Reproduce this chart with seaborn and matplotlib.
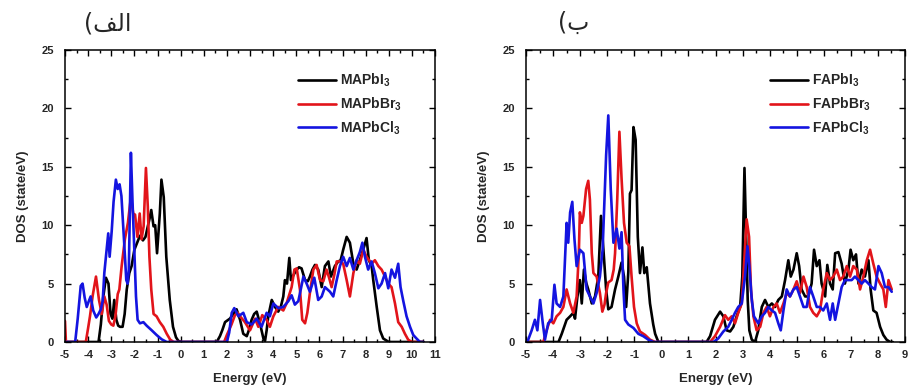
import numpy as np
import pandas as pd
import matplotlib
matplotlib.use("Agg")
import matplotlib.pyplot as plt
from matplotlib.ticker import MultipleLocator
import seaborn as sns

# ---------------- data ----------------
# Panel (a): MA-based perovskites
ma_i_E = [-5.0, -3.55, -3.45, -3.35, -3.23, -3.12, -3.03, -2.95, -2.87, -2.78, -2.7, -2.62, -2.51, -2.42,
          -2.33, -2.22, -2.12, -2.0, -1.88, -1.76, -1.63, -1.52, -1.42, -1.35, -1.27, -1.17, -1.1, -1.02,
          -0.9, -0.83, -0.73, -0.62, -0.47, -0.33, -0.2, -0.1, 0.05,
          1.56, 1.7, 1.8, 1.92, 2.13, 2.28, 2.42, 2.57, 2.71, 2.86, 2.95, 3.07, 3.18, 3.29, 3.43, 3.58, 3.65,
          3.72, 3.79, 3.94, 4.08, 4.22, 4.33, 4.44, 4.51, 4.6, 4.7, 4.77, 4.87, 5.02, 5.12, 5.23, 5.38, 5.5,
          5.59, 5.7, 5.81, 5.95, 6.1, 6.24, 6.39, 6.5, 6.67, 6.82, 6.92, 7.03, 7.18, 7.32, 7.47, 7.61, 7.75,
          7.94, 8.04, 8.14, 8.26, 8.33, 8.48, 8.62, 8.76, 8.98, 9.1, 10.5]
ma_i_D = [0.0, 0.0, 1.5, 3.8, 5.5, 5.0, 2.4, 2.0, 3.6, 1.9, 1.4, 1.3, 1.3, 2.4,
          4.5, 5.9, 6.5, 7.9, 8.5, 9.1, 8.7, 9.0, 9.9, 10.5, 11.3, 9.9, 10.0, 7.6,
          11.0, 13.9, 12.4, 7.3, 3.6, 1.3, 0.4, 0.1, 0.0,
          0.0, 0.5, 1.0, 1.7, 2.0, 2.4, 2.8, 1.9, 0.7, 0.5, 1.0, 1.9, 2.4, 2.6, 1.6, 0.3, 0.1,
          1.0, 2.2, 3.6, 3.0, 2.6, 3.0, 3.9, 5.3, 5.0, 7.2, 5.3, 5.7, 6.2, 6.4, 6.3, 5.3, 5.2,
          5.6, 6.2, 6.6, 6.2, 4.7, 6.5, 6.9, 5.6, 6.5, 6.9, 7.0, 7.9, 9.0, 8.5, 6.7, 6.2, 7.0,
          8.2, 8.9, 7.0, 6.5, 5.3, 3.0, 1.0, 0.3, 0.03, 0.0, 0.0]

ma_br_E = [-5.0, -4.96, -4.1, -4.0, -3.92, -3.8, -3.66, -3.53, -3.41, -3.3, -3.2, -3.1, -3.0, -2.91, -2.82,
           -2.72, -2.65, -2.55, -2.41, -2.28, -2.15, -2.05, -1.97, -1.87, -1.77, -1.69, -1.6, -1.5, -1.42,
           -1.35, -1.27, -1.17, -1.04, -0.9, -0.75, -0.6, -0.45, -0.3,
           1.88, 2.0, 2.2, 2.35, 2.47, 2.57, 2.78, 3.0, 3.22, 3.36, 3.53, 3.72, 3.86, 4.01, 4.22, 4.44, 4.58,
           4.8, 4.92, 5.02, 5.16, 5.26, 5.38, 5.48, 5.59, 5.74, 5.88, 6.03, 6.17, 6.31, 6.42, 6.53, 6.65, 6.75,
           6.89, 7.03, 7.18, 7.32, 7.47, 7.61, 7.75, 7.9, 8.04, 8.15, 8.26, 8.4, 8.55, 8.69, 8.84, 8.98, 9.12,
           9.27, 9.41, 9.56, 9.7, 9.84, 10.0, 10.5]
ma_br_D = [1.8, 0.0, 0.0, 1.2, 2.2, 4.0, 5.6, 3.6, 2.4, 3.9, 3.2, 1.8, 1.5, 1.4, 2.2,
           4.1, 4.5, 6.5, 8.8, 10.2, 12.4, 11.0, 10.9, 9.0, 11.0, 8.8, 9.9, 14.9, 11.6,
           7.3, 4.5, 2.4, 2.2, 1.7, 1.3, 0.7, 0.2, 0.0,
           0.0, 0.6, 1.5, 2.3, 2.5, 2.2, 1.7, 1.0, 2.0, 1.3, 2.3, 1.9, 1.3, 2.2, 3.0, 2.7, 3.3,
           4.7, 6.2, 6.3, 4.5, 1.9, 1.6, 2.5, 4.2, 6.2, 6.6, 5.3, 5.2, 6.2, 5.5, 4.7, 5.8, 6.9,
           6.9, 6.7, 5.3, 3.9, 5.9, 7.0, 6.7, 7.9, 7.3, 7.0, 6.7, 7.0, 6.5, 6.2, 5.6, 5.0, 4.7,
           3.3, 1.7, 1.3, 0.7, 0.2, 0.0, 0.0]

ma_cl_E = [-5.0, -4.56, -4.45, -4.32, -4.24, -4.15, -4.06, -3.97, -3.89, -3.78, -3.65, -3.55, -3.45, -3.37,
           -3.3, -3.22, -3.13, -3.07, -2.98, -2.9, -2.8, -2.72, -2.64, -2.56, -2.45, -2.35, -2.29, -2.24,
           -2.15, -2.08, -2.02, -1.93, -1.86, -1.76, -1.61, -1.47, -1.25, -1.04, -0.82, -0.6,
           2.0, 2.1, 2.21, 2.32, 2.5, 2.71, 2.86, 3.07, 3.29, 3.5, 3.72, 3.86, 4.01, 4.22, 4.44, 4.66, 4.8,
           4.94, 5.09, 5.31, 5.45, 5.59, 5.78, 5.95, 6.1, 6.24, 6.46, 6.6, 6.75, 6.89, 7.03, 7.18, 7.32, 7.47,
           7.61, 7.75, 7.86, 7.97, 8.11, 8.26, 8.4, 8.55, 8.69, 8.84, 8.98, 9.12, 9.27, 9.41, 9.51, 9.63,
           9.77, 9.92, 10.06, 10.2, 10.35, 10.5]
ma_cl_D = [0.0, 0.0, 2.0, 4.8, 5.0, 3.8, 3.0, 3.5, 3.9, 2.7, 2.1, 2.4, 2.8, 3.5,
           5.9, 7.5, 9.3, 7.3, 9.5, 12.0, 13.9, 13.1, 13.5, 12.5, 8.8, 5.3, 5.0, 6.2,
           16.2, 12.0, 8.8, 3.9, 1.9, 1.6, 1.7, 1.4, 1.0, 0.6, 0.23, 0.0,
           0.0, 0.8, 2.5, 2.9, 2.2, 2.5, 1.7, 1.5, 2.0, 1.3, 2.5, 2.2, 3.3, 2.9, 3.0, 3.5, 4.0,
           3.2, 3.5, 5.6, 5.0, 4.3, 5.5, 3.6, 3.9, 4.7, 4.3, 3.9, 5.3, 6.5, 7.3, 6.5, 7.2, 6.2,
           7.0, 7.7, 8.5, 7.3, 6.2, 6.9, 5.9, 4.6, 5.0, 5.9, 4.6, 6.2, 5.5, 6.7, 4.7, 3.5,
           2.2, 1.3, 0.6, 0.3, 0.0, 0.0]

# Panel (b): FA-based perovskites
fa_i_E = [-5.0, -3.8, -3.68, -3.5, -3.37, -3.25, -3.19, -3.1, -3.01, -2.94, -2.86, -2.78, -2.7, -2.57, -2.45,
          -2.33, -2.23, -2.14, -2.04, -1.96, -1.84, -1.71, -1.59, -1.47, -1.38, -1.3, -1.22, -1.16, -1.1,
          -1.03, -0.95, -0.87, -0.79, -0.7, -0.63, -0.54, -0.42, -0.3, -0.23, -0.11,
          1.67, 1.8, 1.98, 2.17, 2.29, 2.41, 2.54, 2.66, 2.78, 2.91, 2.99, 3.07, 3.13, 3.19, 3.25, 3.34, 3.46,
          3.58, 3.71, 3.83, 3.95, 4.08, 4.2, 4.32, 4.45, 4.57, 4.69, 4.78, 4.88, 5.0, 5.09, 5.18, 5.31, 5.43,
          5.55, 5.64, 5.74, 5.84, 5.92, 6.05, 6.13, 6.23, 6.33, 6.42, 6.54, 6.66, 6.78, 6.91, 6.99, 7.09,
          7.19, 7.28, 7.4, 7.52, 7.65, 7.73, 7.83, 7.95, 8.08, 8.2, 8.32, 8.45, 8.55]
fa_i_D = [0.0, 0.0, 0.7, 1.9, 2.2, 2.5, 2.0, 3.9, 5.3, 3.3, 6.2, 5.1, 4.5, 3.3, 3.9,
          5.6, 10.8, 7.9, 4.5, 2.8, 3.0, 4.5, 5.6, 6.8, 5.6, 3.0, 6.0, 12.7, 13.0,
          18.4, 17.3, 9.0, 5.9, 8.1, 5.9, 6.4, 3.3, 1.5, 0.7, 0.0,
          0.0, 0.5, 1.9, 2.6, 2.2, 1.0, 0.9, 1.3, 2.2, 3.0, 5.6, 14.9, 9.3, 3.6, 1.0, 0.2, 0.0,
          1.0, 3.0, 3.6, 3.0, 3.3, 3.0, 3.6, 3.9, 5.3, 7.0, 5.6, 6.2, 7.6, 6.5, 4.5, 3.9, 3.9,
          5.0, 7.9, 6.5, 7.0, 5.0, 3.9, 6.6, 5.0, 4.5, 7.6, 7.7, 6.7, 5.0, 6.2, 7.9, 7.0,
          7.5, 5.0, 6.2, 5.6, 7.0, 4.5, 2.7, 2.5, 1.3, 0.6, 0.2, 0.0, 0.0]

fa_br_E = [-5.0, -4.36, -4.24, -4.11, -3.99, -3.87, -3.74, -3.62, -3.5, -3.37, -3.25, -3.13, -3.05, -3.01,
           -2.94, -2.88, -2.78, -2.7, -2.64, -2.57, -2.51, -2.39, -2.27, -2.18, -2.1, -2.04, -1.96, -1.84,
           -1.76, -1.71, -1.63, -1.55, -1.47, -1.38, -1.28, -1.18, -1.1, -1.01, -0.91, -0.79, -0.6, -0.42,
           -0.23,
           1.8, 1.98, 2.17, 2.35, 2.47, 2.6, 2.72, 2.84, 2.97, 3.05, 3.15, 3.24, 3.31, 3.4, 3.52, 3.65, 3.77,
           3.89, 4.01, 4.14, 4.26, 4.38, 4.51, 4.63, 4.75, 4.88, 5.0, 5.12, 5.25, 5.37, 5.49, 5.61, 5.74,
           5.86, 5.98, 6.11, 6.23, 6.35, 6.48, 6.6, 6.72, 6.85, 6.97, 7.09, 7.22, 7.34, 7.46, 7.59, 7.71,
           7.83, 7.95, 8.08, 8.2, 8.29, 8.39, 8.51]
fa_br_D = [0.0, 0.0, 1.0, 1.9, 1.6, 2.2, 2.5, 3.0, 4.5, 3.3, 2.5, 3.9, 7.5, 11.1,
           10.2, 10.8, 13.1, 13.8, 12.2, 7.6, 5.9, 5.6, 4.2, 2.6, 3.2, 4.2, 5.1, 5.3,
           6.2, 7.6, 12.2, 18.0, 14.0, 10.2, 8.5, 8.2, 5.6, 3.0, 1.6, 0.9, 0.6, 0.2,
           0.0,
           0.0, 0.5, 1.3, 2.3, 1.9, 2.2, 1.6, 2.5, 3.3, 6.5, 10.5, 9.0, 4.5, 2.2, 1.0, 1.3, 2.5,
           3.0, 2.2, 3.0, 3.3, 2.5, 3.3, 4.2, 3.9, 4.5, 5.2, 4.2, 5.6, 4.7, 3.0, 2.5, 2.2,
           2.7, 4.5, 5.9, 5.3, 5.6, 6.2, 5.3, 5.6, 6.5, 5.6, 6.5, 6.2, 4.5, 5.6, 7.0, 7.9,
           6.7, 5.6, 5.0, 4.5, 3.0, 5.3, 4.5]

fa_cl_E = [-5.0, -4.95, -4.79, -4.67, -4.58, -4.48, -4.38, -4.3, -4.18, -4.05, -3.95, -3.87, -3.74, -3.62,
           -3.5, -3.44, -3.37, -3.29, -3.21, -3.13, -3.01, -2.88, -2.76, -2.64, -2.51, -2.39, -2.27, -2.17,
           -2.04, -1.96, -1.87, -1.77, -1.65, -1.55, -1.47, -1.4, -1.34, -1.22, -1.03, -0.85, -0.67, -0.48,
           -0.3,
           1.92, 2.1, 2.29, 2.47, 2.6, 2.72, 2.84, 2.97, 3.09, 3.18, 3.25, 3.34, 3.42, 3.58, 3.71, 3.83, 3.95,
           4.08, 4.2, 4.32, 4.41, 4.51, 4.63, 4.75, 4.88, 5.0, 5.12, 5.25, 5.37, 5.49, 5.61, 5.74, 5.86, 5.98,
           6.11, 6.23, 6.33, 6.42, 6.54, 6.66, 6.78, 6.91, 7.03, 7.15, 7.28, 7.4, 7.52, 7.65, 7.77, 7.89, 8.02,
           8.14, 8.26, 8.39, 8.51]
fa_cl_D = [0.0, 0.0, 1.0, 1.9, 1.0, 3.6, 1.6, 0.2, 1.6, 1.9, 4.9, 3.3, 3.0, 3.9,
           10.2, 8.5, 11.1, 12.0, 8.8, 6.5, 7.9, 7.6, 4.5, 3.9, 3.3, 4.2, 5.6, 7.9,
           16.0, 19.4, 13.1, 8.5, 9.7, 8.0, 9.4, 4.5, 1.9, 1.5, 1.2, 0.7, 0.5, 0.2,
           0.0,
           0.0, 0.3, 0.9, 1.3, 1.9, 2.5, 3.0, 3.3, 5.6, 8.2, 6.5, 3.6, 2.2, 1.6, 2.2, 2.5, 3.0,
           2.7, 2.5, 1.6, 1.0, 2.7, 4.5, 3.9, 4.5, 4.7, 3.9, 3.0, 3.0, 4.7, 3.9, 3.0, 3.0, 2.7,
           3.3, 1.9, 3.3, 1.9, 3.3, 4.7, 5.3, 5.3, 5.3, 5.6, 5.3, 5.0, 5.3, 5.0, 4.7, 4.5, 6.5,
           5.9, 4.7, 4.7, 4.3]

labels_a = ["MAPbI$_3$", "MAPbBr$_3$", "MAPbCl$_3$"]
labels_b = ["FAPbI$_3$", "FAPbBr$_3$", "FAPbCl$_3$"]
series_colors = ["#000000", "#e2141a", "#1414e0"]
# Arabic panel titles "الف)" and "ب)" written in visual order with presentation forms
title_a = "(" + "\ufed2\ufedf\ufe8d"
title_b = "(" + "\ufe8f"
x_label = "Energy (eV)"
y_label = "DOS (state/eV)"

# ---------------- style ----------------
sns.set_style("ticks")
plt.rcParams["font.family"] = ["Liberation Sans", "DejaVu Sans"]
plt.rcParams["font.weight"] = "bold"
plt.rcParams["axes.unicode_minus"] = False
plt.rcParams["mathtext.fontset"] = "custom"
plt.rcParams["mathtext.rm"] = "Liberation Sans:bold"
plt.rcParams["mathtext.bf"] = "Liberation Sans:bold"
plt.rcParams["mathtext.default"] = "bf"

fig = plt.figure(figsize=(9.09, 3.89), dpi=100)
W, H = 909.0, 389.0
ax1 = fig.add_axes([65 / W, 47 / H, 370 / W, 292 / H])
ax2 = fig.add_axes([526 / W, 47 / H, 379 / W, 292 / H])


def draw(ax, Es, Ds, labels, xmax, leg_x):
    frames = []
    for E, D, lab in zip(Es, Ds, labels):
        frames.append(pd.DataFrame({"E": E, "DOS": D, "material": lab}))
    df = pd.concat(frames, ignore_index=True)
    sns.lineplot(data=df, x="E", y="DOS", hue="material", hue_order=labels,
                 palette=dict(zip(labels, series_colors)), sort=False, estimator=None,
                 linewidth=1.9, ax=ax)
    ax.set_xlim(-5, xmax)
    ax.set_ylim(0, 25)
    ax.xaxis.set_major_locator(MultipleLocator(1))
    ax.xaxis.set_minor_locator(MultipleLocator(0.5))
    ax.yaxis.set_major_locator(MultipleLocator(5))
    ax.yaxis.set_minor_locator(MultipleLocator(2.5))
    ax.tick_params(which="both", direction="in", top=True, right=True, width=1.0,
                   labelsize=8, color="black")
    ax.tick_params(which="major", length=4)
    ax.tick_params(which="minor", length=2.5)
    ax.tick_params(axis="x", pad=6)
    ax.tick_params(axis="y", pad=8)
    for lab in ax.get_xticklabels() + ax.get_yticklabels():
        lab.set_fontweight("bold")
    for sp in ax.spines.values():
        sp.set_linewidth(1.1)
        sp.set_color("black")
    ax.set_xlabel(x_label, fontsize=9.5, fontweight="bold", labelpad=9)
    ax.set_ylabel(y_label, fontsize=9.5, fontweight="bold", labelpad=9)
    handles, labs = ax.get_legend_handles_labels()
    ax.legend(handles, labs, loc="upper left", bbox_to_anchor=(leg_x, 0.925),
              frameon=False, handlelength=2.7, handletextpad=0.35,
              labelspacing=0.45, borderpad=0, borderaxespad=0,
              prop={"weight": "bold", "size": 10})


draw(ax1, [ma_i_E, ma_br_E, ma_cl_E], [ma_i_D, ma_br_D, ma_cl_D], labels_a, 11, 0.63)
draw(ax2, [fa_i_E, fa_br_E, fa_cl_E], [fa_i_D, fa_br_D, fa_cl_D], labels_b, 9, 0.644)

fig.text(108 / W, 1 - 23 / H, title_a, ha="center", va="center", fontsize=17,
         family="DejaVu Sans", fontweight="normal")
fig.text(574 / W, 1 - 23 / H, title_b, ha="center", va="center", fontsize=17,
         family="DejaVu Sans", fontweight="normal")

fig.savefig("out.png", dpi=100)
